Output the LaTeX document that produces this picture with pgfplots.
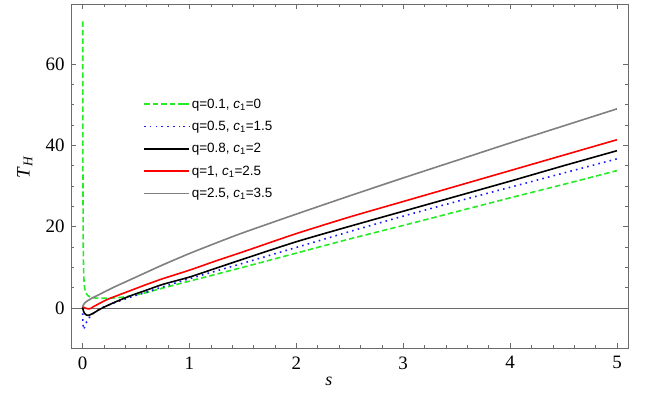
\documentclass[border=0pt]{standalone}
\usepackage{fontspec}
\setmainfont{Liberation Serif}
\setsansfont{Liberation Sans}
\usepackage{pgfplots}
\pgfplotsset{compat=1.18}
\definecolor{framec}{gray}{0.42}
\definecolor{mgreen}{rgb}{0.15,0.92,0.15}
\definecolor{mblue}{rgb}{0.1,0.1,1}
\definecolor{mred}{rgb}{1,0,0}
\definecolor{mgray}{gray}{0.5}
\begin{document}
\begin{tikzpicture}
\begin{axis}[
  scale only axis, width=557bp, height=344bp, at={(0,0)}, anchor=south west,
  xmin=-0.108, xmax=5.103, ymin=-9.85, ymax=74.8,
  axis line style={framec, line width=0.7bp},
  xtick={0,1,2,3,4,5}, minor x tick num=4,
  ytick={0,20,40,60}, minor y tick num=3,
  tick align=inside, tick pos=both,
  major tick length=5bp, minor tick length=3bp,
  every tick/.style={framec, line width=0.6bp},
  xticklabel style={font=\fontsize{19}{21}\selectfont, text=black, yshift=-5bp},
  yticklabel style={font=\fontsize{19}{21}\selectfont, text=black, xshift=-3bp},
  /pgf/number format/assume math mode=true,
  xlabel={\textit{s}}, ylabel={\textit{T}\textsubscript{\textit{H}}},
  xlabel style={at={(axis description cs:0.463,-0.097)}, anchor=center, font=\fontsize{18}{20}\selectfont},
  ylabel style={at={(axis description cs:-0.083,0.526)}, anchor=center, font=\fontsize{19}{21}\selectfont},
  legend style={at={(axis description cs:0.124,0.737)}, anchor=north west, draw=none, fill=none,
    font=\sffamily\fontsize{13.5}{15}\selectfont, row sep=7.5bp},
  legend cell align=left,
  legend image code/.code={\draw[#1] (0bp,0bp) -- (39bp,0bp); \path (39bp,0bp) -- (45bp,0bp);},
]
\addplot[framec, line width=0.6bp, forget plot] coordinates {(-0.3,0) (5.3,0)};
\addplot[mgreen, line width=1.6bp, dash pattern=on 5.5bp off 3bp] coordinates {
(0.002,70.5) (0.0025,56) (0.003,45) (0.0035,37) (0.004,31) (0.005,22.5) (0.006,17.5) (0.007,14.2) (0.008,12) (0.01,9.2) (0.0125,7.3) (0.015,6.2) (0.02,4.9) (0.025,4.2) (0.03,3.8) (0.04,3.35) (0.05,3.05) (0.065,2.8) (0.08,2.62) (0.1,2.5) (0.13,2.43) (0.17,2.4) (0.22,2.4) (0.28,2.45) (0.34,2.55) (0.4,2.75) (0.5,3.2) (0.6,3.8) (0.75,4.9) (1,6.6) (1.25,8.3) (1.5,10.0) (2,13.5) (2.5,17.0) (3,20.3) (3.5,23.7) (4,27.1) (4.5,30.4) (5,33.8)};
\addlegendentry{q=0.1, \textit{c}\textsubscript{1}=0}
\addplot[mblue, line width=1.6bp, dash pattern=on 1.6bp off 4.2bp, smooth, tension=0.4] coordinates {
(0,0.1) (0.002,-1.8) (0.004,-3.4) (0.006,-4.5) (0.008,-5.1) (0.01,-5.3) (0.013,-5.2) (0.017,-4.9) (0.025,-4.2) (0.035,-3.6) (0.05,-2.9) (0.065,-2.3) (0.08,-1.85) (0.1,-1.35) (0.125,-0.85) (0.15,-0.45) (0.2,0.25) (0.25,0.8) (0.3,1.3) (0.4,2.2) (0.5,3.1) (0.6,3.9) (0.75,5.2) (1,7.2) (1.25,9.1) (1.5,11.0) (2,14.9) (2.5,18.8) (3,22.6) (3.5,26.2) (4,29.7) (4.5,33.2) (5,36.7)};
\addlegendentry{q=0.5, \textit{c}\textsubscript{1}=1.5}
\addplot[black, line width=1.6bp, smooth, tension=0.4] coordinates {
(0,0.2) (0.005,-0.4) (0.01,-0.85) (0.02,-1.35) (0.03,-1.6) (0.04,-1.75) (0.05,-1.8) (0.06,-1.78) (0.07,-1.7) (0.085,-1.5) (0.1,-1.3) (0.125,-0.9) (0.15,-0.5) (0.2,0.2) (0.25,0.8) (0.3,1.4) (0.4,2.5) (0.5,3.5) (0.6,4.4) (0.75,5.8) (1,7.6) (1.25,9.8) (1.5,12.0) (2,16.3) (2.5,20.1) (3,23.8) (3.5,27.5) (4,31.2) (4.5,35.0) (5,38.7)};
\addlegendentry{q=0.8, \textit{c}\textsubscript{1}=2}
\addplot[mred, line width=1.6bp, smooth, tension=0.4] coordinates {
(0,0.3) (0.01,0.2) (0.02,0.05) (0.035,-0.1) (0.05,-0.2) (0.065,-0.2) (0.08,-0.05) (0.1,0.3) (0.125,0.65) (0.15,1.0) (0.2,1.7) (0.25,2.3) (0.3,2.8) (0.4,3.8) (0.5,4.8) (0.6,5.8) (0.75,7.2) (1,9.3) (1.25,11.6) (1.5,13.8) (2,18.3) (2.5,22.4) (3,26.2) (3.5,30.0) (4,33.8) (4.5,37.6) (5,41.4)};
\addlegendentry{q=1, \textit{c}\textsubscript{1}=2.5}
\addplot[mgray, line width=1.6bp, smooth, tension=0.4] coordinates {
(0,0.2) (0.003,0.4) (0.007,0.7) (0.012,0.95) (0.02,1.2) (0.03,1.45) (0.045,1.75) (0.065,2.05) (0.09,2.45) (0.12,2.85) (0.16,3.35) (0.2,3.9) (0.25,4.55) (0.3,5.2) (0.4,6.4) (0.5,7.6) (0.6,8.8) (0.75,10.6) (1,13.4) (1.25,16.0) (1.5,18.5) (2,23.1) (2.5,27.6) (3,32.0) (3.5,36.3) (4,40.6) (4.5,44.8) (5,49.0)};
\addlegendentry{q=2.5, \textit{c}\textsubscript{1}=3.5}
\end{axis}
\pgfresetboundingbox
\path[use as bounding box] (-71bp,-54bp) rectangle (586bp,348bp);
\end{tikzpicture}
\end{document}
